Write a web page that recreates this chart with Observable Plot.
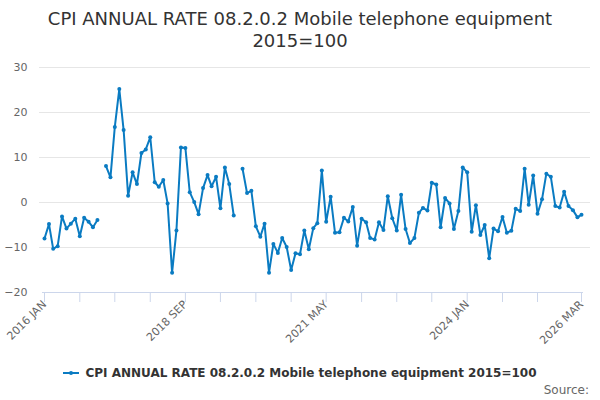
<!DOCTYPE html>
<html>
<head>
<meta charset="utf-8">
<script src="https://cdn.jsdelivr.net/npm/d3@7"></script>
<script src="https://cdn.jsdelivr.net/npm/@observablehq/plot@0.6"></script>
<style>
  html, body { margin: 0; padding: 0; background: #fff; }
  body { width: 600px; height: 400px; overflow: hidden; font-family: "DejaVu Sans", sans-serif; position: relative; }
  #title { padding-top: 8px; height: 44px; font-size: 18px; line-height: 22px; color: #333; text-align: center; }
  #chart { height: 300px; }
  #legend { position: absolute; top: 364px; left: 0; width: 600px; text-align: center; font-size: 12px; font-weight: bold; color: #333; line-height: 18px; }
  #legend svg { vertical-align: middle; margin-right: 6px; position: relative; top: -1px; }
  #source { position: absolute; top: 383px; right: 11px; font-size: 12px; color: #666; }
</style>
</head>
<body>
<div id="title">CPI ANNUAL RATE 08.2.0.2 Mobile telephone equipment<br>2015=100</div>
<div id="chart"></div>
<div id="legend"><svg width="16" height="10"><line x1="0" y1="5" x2="16" y2="5" stroke="#0a7bc2" stroke-width="2"/><circle cx="8" cy="5" r="2" fill="#0a7bc2"/></svg>CPI ANNUAL RATE 08.2.0.2 Mobile telephone equipment 2015=100</div>
<div id="source">Source:</div>
<script>
const seriesName = "CPI ANNUAL RATE 08.2.0.2 Mobile telephone equipment 2015=100";
const startYear = 2016, startMonth = 0; // first observation: 2016 JAN
const values = [
  -8.0, -4.8, -10.3, -9.7, -3.1, -5.8, -4.7, -3.6, -7.5, -3.4, -4.3, -5.5,
  -3.9, null, 8.1, 5.6, 16.8, 25.2, 16.1, 1.5, 6.7, 4.1, 11.0, 11.8,
  14.5, 4.5, 3.5, 5.0, -0.2, -15.6, -6.2, 12.2, 12.1, 2.3, 0.1, -2.6,
  3.2, 6.1, 3.6, 5.7, -1.3, 7.8, 4.1, -2.9, null, 7.5, 2.1, 2.6,
  -5.3, -7.6, -4.7, -15.6, -9.2, -11.2, -7.9, -9.9, -15.0, -11.3, -11.5, -6.2,
  -10.4, -5.7, -4.6, 7.1, -4.3, 1.3, -6.7, -6.6, -3.4, -4.2, -1.0, -9.6,
  -3.6, -4.4, -7.9, -8.2, -4.4, -6.1, 1.4, -3.5, -6.2, 1.7, -5.9, -9.0,
  -7.9, -2.3, -1.2, -1.8, 4.4, 4.0, -5.5, 1.0, -0.2, -5.9, -1.9, 7.8,
  6.7, -6.5, -0.6, -7.2, -5.0, -12.4, -5.8, -6.4, -3.2, -6.7, -6.3, -1.4,
  -1.9, 7.5, -0.5, 6.0, -2.5, 0.7, 6.4, 5.7, -0.8, -1.1, 2.4, -0.8,
  -1.7, -3.3, -2.7
];
const yTicks = [-20, -10, 0, 10, 20, 30];
const xTickLabels = ["2016 JAN", "2018 SEP", "2021 MAY", "2024 JAN", "2026 MAR"];
const xMinorTickLabels = ["2016 JAN","2016 SEP","2017 MAY","2018 JAN","2018 SEP","2019 MAY","2020 JAN","2020 SEP","2021 MAY","2022 JAN","2022 SEP","2023 MAY","2024 JAN","2024 SEP","2025 MAY","2026 MAR"];

const monthNames = ["JAN","FEB","MAR","APR","MAY","JUN","JUL","AUG","SEP","OCT","NOV","DEC"];
const parseLabel = s => { const [y, m] = s.split(" "); return new Date(Date.UTC(+y, monthNames.indexOf(m), 1)); };
const data = values.map((v, i) => ({ date: new Date(Date.UTC(startYear, startMonth + i, 1)), value: v }));
const color = "#0a7bc2";
const labelDates = xTickLabels.map(parseLabel);
const tickDates = xMinorTickLabels.map(parseLabel);
const fmt = d => `${d.getUTCFullYear()} ${monthNames[d.getUTCMonth()]}`;

const chart = Plot.plot({
  width: 600,
  height: 300,
  marginTop: 15,
  marginBottom: 60,
  marginLeft: 44,
  marginRight: 19,
  style: { fontFamily: "DejaVu Sans", fontSize: "11px", background: "#fff" },
  x: { type: "utc", domain: [data[0].date, data[data.length - 1].date] },
  y: { domain: [-20, 30] },
  marks: [
    Plot.ruleY(yTicks.filter(v => v !== -20), { stroke: "#e6e6e6", insetLeft: -5, insetRight: -9 }),
    Plot.ruleY([-20], { stroke: "#ccd6eb", insetLeft: -2, insetRight: -2 }),
    Plot.axisY({ ticks: yTicks, tickSize: 0, tickPadding: 17, fill: "#666", label: null }),
    Plot.axisX({ ticks: tickDates, tickSize: 10, stroke: "#ccd6eb", tickFormat: () => "", label: null }),
    Plot.axisX({ ticks: labelDates, tickSize: 0, tickPadding: 10, tickRotate: -45, tickFormat: fmt, fill: "#666", fontSize: 11, label: null }),
    Plot.line(data, { x: "date", y: "value", stroke: color, strokeWidth: 2 }),
    Plot.dot(data.filter(d => d.value != null), { x: "date", y: "value", r: 2, fill: color })
  ]
});
document.getElementById("chart").appendChild(chart);
</script>
</body>
</html>
